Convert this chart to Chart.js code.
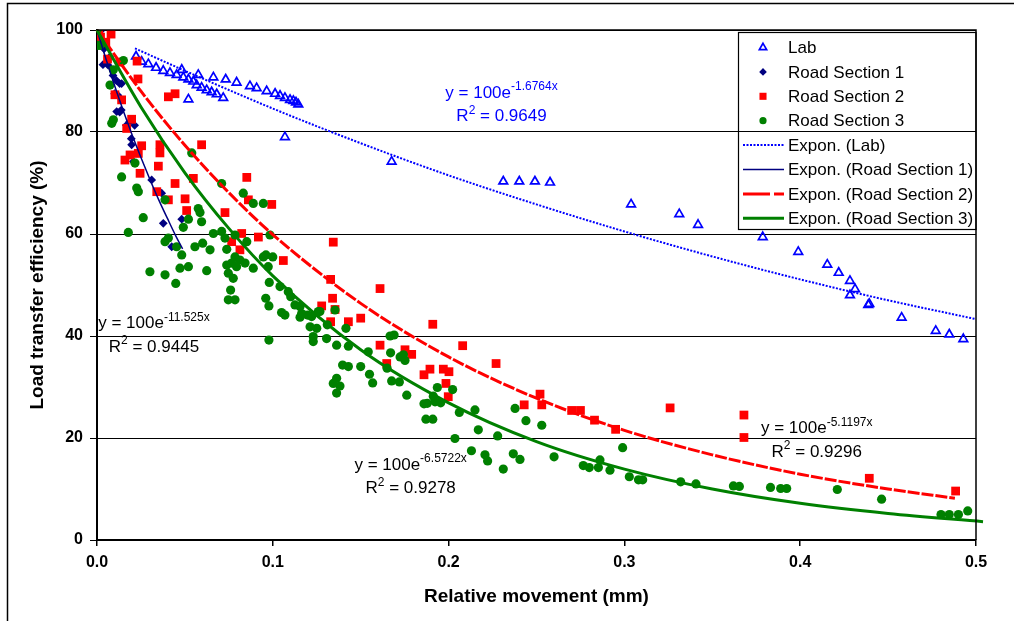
<!DOCTYPE html>
<html><head><meta charset="utf-8">
<script src="https://cdn.jsdelivr.net/npm/chart.js@4.4.0/dist/chart.umd.min.js"></script>
<style>html,body{margin:0;padding:0;background:#fff;}#wrap{width:1014px;height:621px;}</style>
</head><body><div id="wrap"><canvas id="c" width="1014" height="621"></canvas></div>
<script>
// ---------- data ----------
const labData = [[0.0222,94.8],[0.0254,93.8],[0.0292,93.3],[0.0336,92.6],[0.0377,92.0],[0.0415,91.6],[0.0453,91.2],[0.0482,92.2],[0.0491,90.7],[0.0520,90.3],[0.0548,89.9],[0.0520,86.4],[0.0567,89.2],[0.0576,91.2],[0.0595,88.7],[0.0624,88.2],[0.0652,87.8],[0.0662,90.7],[0.0681,87.4],[0.0718,86.7],[0.0732,90.3],[0.0794,89.7],[0.0870,89.0],[0.0908,88.6],[0.0965,88.0],[0.1013,87.5],[0.1041,87.1],[0.1069,86.7],[0.1098,86.3],[0.1117,86.1],[0.1132,85.8],[0.1145,85.4],[0.1069,79.0],[0.1676,74.2],[0.2311,70.3],[0.2402,70.3],[0.2491,70.3],[0.2577,70.1],[0.3038,65.8],[0.3312,63.9],[0.3419,61.8],[0.3787,59.4],[0.3989,56.5],[0.4154,54.0],[0.4219,52.4],[0.4283,50.8],[0.4312,49.2],[0.4283,48.0],[0.4387,46.1],[0.4393,46.3],[0.4577,43.6],[0.4771,41.0],[0.4848,40.3],[0.4928,39.4]];
const rs1Data = [[0.0,100],[0.0025,100],[0.0034,97.6],[0.0040,96.3],[0.0034,93.2],[0.0063,93.1],[0.0072,94.7],[0.0091,91.1],[0.0110,90.1],[0.0129,89.5],[0.0140,89.5],[0.0100,87.5],[0.0119,87.2],[0.0138,84.3],[0.0129,83.9],[0.0112,84.0],[0.0186,82.0],[0.0214,81.3],[0.0167,81.3],[0.0195,78.7],[0.0197,77.5],[0.0207,74.2],[0.0235,68.6],[0.0311,70.6],[0.0368,68.0],[0.0377,62.1],[0.0425,57.5],[0.0482,62.9]];
const rs2Data = [[0.001,99.6],[0.008,99.2],[0.002,98.6],[0.005,97.6],[0.006,94.3],[0.013,93.7],[0.0228,93.9],[0.0233,90.4],[0.0102,87.3],[0.0140,86.3],[0.0406,86.9],[0.0444,87.5],[0.0197,82.5],[0.0169,80.7],[0.0254,77.3],[0.0358,77.5],[0.0358,75.9],[0.0159,74.5],[0.0188,75.5],[0.0235,75.8],[0.0349,73.3],[0.0595,77.5],[0.0245,71.9],[0.0444,69.9],[0.0548,70.9],[0.0340,68.3],[0.0406,66.7],[0.0501,66.9],[0.0510,64.6],[0.0728,64.2],[0.0852,71.1],[0.0861,66.7],[0.0994,65.8],[0.0823,60.1],[0.0918,59.4],[0.0766,58.5],[0.0813,56.9],[0.1060,54.8],[0.1344,58.4],[0.1329,51.1],[0.1610,49.3],[0.1340,47.4],[0.1278,45.9],[0.1354,45.2],[0.1329,42.8],[0.1430,42.8],[0.1500,43.5],[0.1910,42.3],[0.1610,38.2],[0.1752,37.3],[0.1790,36.4],[0.1648,34.6],[0.2080,38.1],[0.2270,34.6],[0.1894,33.5],[0.1970,33.5],[0.2002,33.0],[0.1860,32.4],[0.1985,30.7],[0.1998,28.1],[0.2520,28.6],[0.2530,26.5],[0.2430,26.5],[0.2700,25.4],[0.2750,25.4],[0.2830,23.5],[0.2950,21.7],[0.3260,25.9],[0.3680,24.5],[0.3680,20.1],[0.4393,12.1],[0.4884,9.6]];
const rs3Data = [[0.0,100],[0.0006,97.0],[0.0017,97.0],[0.0074,89.2],[0.0093,92.2],[0.0150,94.0],[0.0093,82.4],[0.0084,81.7],[0.0140,71.2],[0.0216,73.9],[0.0178,60.3],[0.0226,69.0],[0.0235,68.3],[0.0387,66.7],[0.0539,75.9],[0.0709,69.9],[0.0832,68.0],[0.0889,66.0],[0.0946,66.0],[0.0576,65.0],[0.0586,64.2],[0.0595,62.4],[0.0520,62.9],[0.0491,61.3],[0.0263,63.2],[0.0662,60.1],[0.0709,60.5],[0.0728,59.2],[0.0785,59.8],[0.0387,58.5],[0.0406,59.2],[0.0453,57.5],[0.0482,55.9],[0.0557,57.5],[0.0601,58.2],[0.0643,56.9],[0.0738,57.0],[0.0785,55.5],[0.0852,58.5],[0.0946,55.5],[0.0984,59.8],[0.0738,53.9],[0.0794,53.6],[0.0842,54.3],[0.0889,53.3],[0.0301,52.6],[0.0387,52.0],[0.0472,53.3],[0.0520,53.6],[0.0624,52.8],[0.0448,50.3],[0.0766,54.3],[0.0747,52.3],[0.0775,51.3],[0.0760,49.0],[0.0747,47.1],[0.0785,47.1],[0.0813,54.9],[0.0961,55.9],[0.1000,55.5],[0.0974,53.6],[0.0980,50.5],[0.1041,49.7],[0.0960,47.4],[0.0978,45.9],[0.1050,44.6],[0.1069,44.1],[0.1088,48.7],[0.1102,47.7],[0.1126,46.1],[0.1155,45.8],[0.1164,44.4],[0.1155,43.7],[0.1198,44.1],[0.1221,43.8],[0.1259,44.8],[0.1212,41.8],[0.1230,39.9],[0.1230,38.9],[0.1306,39.5],[0.1363,38.2],[0.1250,41.5],[0.0978,39.2],[0.1310,42.2],[0.1354,45.1],[0.1344,30.7],[0.1363,31.7],[0.1363,28.8],[0.1268,44.8],[0.1416,41.5],[0.1430,38.0],[0.1543,36.9],[0.1667,40.0],[0.1690,40.2],[0.1670,36.7],[0.1724,35.9],[0.1743,36.3],[0.1752,35.2],[0.1397,34.3],[0.1430,34.0],[0.1500,34.0],[0.1550,32.5],[0.1650,33.7],[0.1568,30.8],[0.1676,31.2],[0.1720,31.0],[0.1382,30.2],[0.1762,28.4],[0.1936,29.9],[0.2023,29.5],[0.1913,28.2],[0.1860,26.7],[0.1879,26.8],[0.1923,27.1],[0.1955,26.9],[0.2061,25.0],[0.2150,25.5],[0.1871,23.7],[0.1910,23.7],[0.2378,25.8],[0.2440,23.4],[0.2530,22.5],[0.2169,21.6],[0.2279,20.4],[0.2036,19.9],[0.2130,17.5],[0.2207,16.7],[0.2222,15.5],[0.2311,13.9],[0.2368,16.9],[0.2406,15.8],[0.2600,16.3],[0.2990,18.1],[0.2766,14.6],[0.2800,14.2],[0.2852,14.2],[0.2861,15.7],[0.2918,13.7],[0.3028,12.4],[0.3080,11.8],[0.3104,11.8],[0.3320,11.4],[0.3407,11.0],[0.3620,10.6],[0.3654,10.5],[0.3831,10.3],[0.3889,10.1],[0.3923,10.1],[0.4211,9.9],[0.4463,8.0],[0.4801,5.0],[0.4848,5.0],[0.4900,5.0],[0.4953,5.7]];
// trendline curves, read along the drawn fits
const labTrend = [[0.0216,96.4],[0.05,92.0],[0.1,84.6],[0.15,77.8],[0.2,71.5],[0.25,65.8],[0.3,60.5],[0.35,55.6],[0.4,51.1],[0.45,47.0],[0.5,43.3],[0.509,42.6]];
const rs1Trend = [[0,100],[0.005,94.4],[0.01,89.1],[0.015,84.1],[0.02,79.4],[0.025,75.0],[0.03,70.8],[0.035,66.8],[0.04,63.1],[0.045,59.5],[0.0487,57.1]];
const rs2Trend = [[0,100],[0.025,88.0],[0.05,77.4],[0.075,68.1],[0.1,59.9],[0.15,46.4],[0.2,35.9],[0.25,27.8],[0.3,21.5],[0.35,16.7],[0.4,12.9],[0.45,10.0],[0.488,8.2]];
const rs3Trend = [[0,100],[0.025,84.9],[0.05,72.0],[0.075,61.1],[0.1,51.8],[0.15,37.3],[0.2,26.9],[0.25,19.3],[0.3,13.9],[0.35,10.0],[0.4,7.2],[0.45,5.2],[0.504,3.6]];
// fitted equation labels
const eqExponent = ['-1.6764x','-11.525x','-5.1197x','-6.5722x'];
const eqR2 = ['0.9649','0.9445','0.9296','0.9278'];
const eqColor = ['#0000FF','#000000','#000000','#000000'];
const eqAnchor = [[0.2301,86.67],[0.0324,41.5],[0.4094,20.92],[0.1784,13.73]];
const xTicks = [0,0.1,0.2,0.3,0.4,0.5];
const yTicks = [0,20,40,60,80,100];
const legendOrder = ['Lab','Road Section 1','Road Section 2','Road Section 3','Expon. (Lab)','Expon. (Road Section 1)','Expon. (Road Section 2)','Expon. (Road Section 3)'];

// ---------- chart ----------
const FONT = '"Liberation Sans", Arial, sans-serif';
const pts = a => a.map(([x, y]) => ({x, y}));

function marker(ctx, style, x, y, r, fill, stroke, lw) {
  ctx.save();
  ctx.beginPath();
  if (style === 'triangle') {
    ctx.moveTo(x, y - r); ctx.lineTo(x + r * 0.866, y + r * 0.5); ctx.lineTo(x - r * 0.866, y + r * 0.5); ctx.closePath();
  } else if (style === 'rectRot') {
    ctx.moveTo(x, y - r); ctx.lineTo(x + r, y); ctx.lineTo(x, y + r); ctx.lineTo(x - r, y); ctx.closePath();
  } else if (style === 'rect') {
    const s = r * 0.7071; ctx.rect(x - s, y - s, 2 * s, 2 * s);
  } else {
    ctx.arc(x, y, r, 0, Math.PI * 2);
  }
  if (fill && fill !== 'transparent') { ctx.fillStyle = fill; ctx.fill(); }
  if (lw > 0) { ctx.strokeStyle = stroke; ctx.lineWidth = lw; ctx.stroke(); }
  ctx.restore();
}

const framePlugin = {
  id: 'frame',
  beforeDraw(chart) {
    const ctx = chart.ctx;
    ctx.save();
    ctx.fillStyle = '#fff'; ctx.fillRect(0, 0, chart.width, chart.height);
    ctx.strokeStyle = '#000'; ctx.lineWidth = 1.5;
    ctx.beginPath(); ctx.moveTo(7.5, chart.height); ctx.lineTo(7.5, 3.5); ctx.lineTo(chart.width, 3.5); ctx.stroke();
    ctx.restore();
  },
  afterDraw(chart) {
    const ctx = chart.ctx, a = chart.chartArea;
    ctx.save();
    ctx.strokeStyle = '#000'; ctx.lineWidth = 1.5;
    ctx.beginPath(); ctx.moveTo(a.left, a.top); ctx.lineTo(a.right, a.top); ctx.lineTo(a.right, a.bottom); ctx.stroke();
    ctx.restore();

    // equation labels
    const xs = chart.scales.x, ys = chart.scales.y;
    ctx.save();
    ctx.beginPath(); ctx.rect(a.left + 1, a.top, a.right - a.left, a.bottom - a.top); ctx.clip();
    const big = '17px ' + FONT, small = '12px ' + FONT;
    ctx.textBaseline = 'alphabetic'; ctx.textAlign = 'left';
    eqExponent.forEach((ex, i) => {
      const cx = xs.getPixelForValue(eqAnchor[i][0]);
      const by = ys.getPixelForValue(eqAnchor[i][1]);
      ctx.fillStyle = eqColor[i];
      ctx.font = big; const w1 = ctx.measureText('y = 100e').width;
      ctx.font = small; const w2 = ctx.measureText(ex).width;
      let x = cx - (w1 + w2) / 2;
      ctx.font = big; ctx.fillText('y = 100e', x, by);
      ctx.font = small; ctx.fillText(ex, x + w1, by - 7.5);
      const y2 = by + 23.5;
      ctx.font = big; const wR = ctx.measureText('R').width; const wRest = ctx.measureText(' = ' + eqR2[i]).width;
      ctx.font = small; const wS = ctx.measureText('2').width;
      x = cx - (wR + wS + wRest) / 2;
      ctx.font = big; ctx.fillText('R', x, y2);
      ctx.font = small; ctx.fillText('2', x + wR, y2 - 7.5);
      ctx.font = big; ctx.fillText(' = ' + eqR2[i], x + wR + wS, y2);
    });
    ctx.restore();

    // legend
    const W = 238, H = 197;
    const L = a.right - W, T = a.top + 2;
    ctx.save();
    ctx.strokeStyle = '#000'; ctx.lineWidth = 1.2;
    ctx.strokeRect(L + 0.5, T + 0.5, W - 0.5, H);
    ctx.beginPath(); ctx.rect(L, T, W, H); ctx.clip();
    ctx.font = '17px ' + FONT; ctx.textBaseline = 'middle'; ctx.textAlign = 'left'; ctx.fillStyle = '#000';
    legendOrder.forEach((lab, i) => {
      const ds = chart.data.datasets.find(d => d.label === lab);
      const cy = T + 15.5 + i * 24.4;
      if (ds.showLine) {
        ctx.save();
        ctx.strokeStyle = ds.borderColor; ctx.lineWidth = ds.borderWidth;
        ctx.setLineDash(lab === 'Expon. (Road Section 2)' ? [27, 4] : (ds.borderDash || []));
        ctx.beginPath(); ctx.moveTo(L + 5, cy); ctx.lineTo(L + 46, cy); ctx.stroke();
        ctx.restore();
      } else {
        marker(ctx, ds.pointStyle, L + 25, cy, ds.legendRadius, ds.backgroundColor, ds.borderColor, ds.pointBorderWidth);
      }
      ctx.fillStyle = '#000';
      ctx.fillText(lab, L + 50, cy + 1);
    });
    ctx.restore();
  }
};

new Chart(document.getElementById('c'), {
  type: 'scatter',
  data: {
    datasets: [
      {label: 'Expon. (Road Section 3)', data: pts(rs3Trend), showLine: true, borderColor: '#008000', borderWidth: 3, pointRadius: 0, cubicInterpolationMode: 'monotone', clip: false, order: 0},
      {label: 'Expon. (Road Section 2)', data: pts(rs2Trend), showLine: true, borderColor: '#FF0000', borderWidth: 3, borderDash: [12, 2], pointRadius: 0, cubicInterpolationMode: 'monotone', clip: false, order: 1},
      {label: 'Expon. (Road Section 1)', data: pts(rs1Trend), showLine: true, borderColor: '#000080', borderWidth: 1.5, pointRadius: 0, cubicInterpolationMode: 'monotone', clip: false, order: 2},
      {label: 'Expon. (Lab)', data: pts(labTrend), showLine: true, borderColor: '#0000FF', borderWidth: 2, borderDash: [2, 1.5], pointRadius: 0, cubicInterpolationMode: 'monotone', clip: false, order: 3},
      {label: 'Road Section 3', data: pts(rs3Data), pointStyle: 'circle', pointRadius: 4.6, legendRadius: 3.6, backgroundColor: '#008000', borderColor: '#008000', pointBorderWidth: 0, borderWidth: 0, order: 4},
      {label: 'Road Section 2', data: pts(rs2Data), pointStyle: 'rect', pointRadius: 6.2, legendRadius: 5, backgroundColor: '#FF0000', borderColor: '#FF0000', pointBorderWidth: 0, borderWidth: 0, order: 5},
      {label: 'Road Section 1', data: pts(rs1Data), pointStyle: 'rectRot', pointRadius: 4.4, legendRadius: 3.8, backgroundColor: '#000080', borderColor: '#000080', pointBorderWidth: 0, borderWidth: 0, order: 6},
      {label: 'Lab', data: pts(labData), pointStyle: 'triangle', pointRadius: 5, legendRadius: 4.2, backgroundColor: 'transparent', borderColor: '#0000FF', pointBorderWidth: 1.7, borderWidth: 1.7, order: 7}
    ]
  },
  options: {
    responsive: false, animation: false, devicePixelRatio: 1,
    layout: {padding: {top: 30, right: 38, bottom: 0, left: 0}},
    plugins: {legend: {display: false}, tooltip: {enabled: false}},
    scales: {
      x: {
        type: 'linear', min: 0, max: 0.5,
        afterBuildTicks: s => { s.ticks = xTicks.map(v => ({value: v})); },
        ticks: {callback: v => Number(v).toFixed(1), color: '#000', font: {family: FONT, size: 16, weight: 'bold'}, padding: 7, maxRotation: 0, autoSkip: false},
        grid: {drawOnChartArea: false, drawTicks: true, tickLength: 6, color: '#000', lineWidth: 1.5},
        border: {display: true, color: '#000', width: 2},
        title: {display: true, text: 'Relative movement (mm)', color: '#000', font: {family: FONT, size: 19, weight: 'bold'}, padding: {top: 0, bottom: 12.6}},
        afterFit: s => { s.height = 81; }
      },
      y: {
        type: 'linear', min: 0, max: 100,
        afterBuildTicks: s => { s.ticks = yTicks.map(v => ({value: v})); },
        ticks: {color: '#000', font: {family: FONT, size: 16, weight: 'bold'}, padding: 7, autoSkip: false},
        grid: {color: '#000', lineWidth: 1, tickLength: 7, drawTicks: true},
        border: {display: true, color: '#000', width: 2},
        title: {display: true, text: 'Load transfer efficiency (%)', color: '#000', font: {family: FONT, size: 19, weight: 'bold'}, padding: {top: 26.6, bottom: 0}},
        afterFit: s => { s.width = 97; }
      }
    }
  },
  plugins: [framePlugin]
});
</script></body></html>
